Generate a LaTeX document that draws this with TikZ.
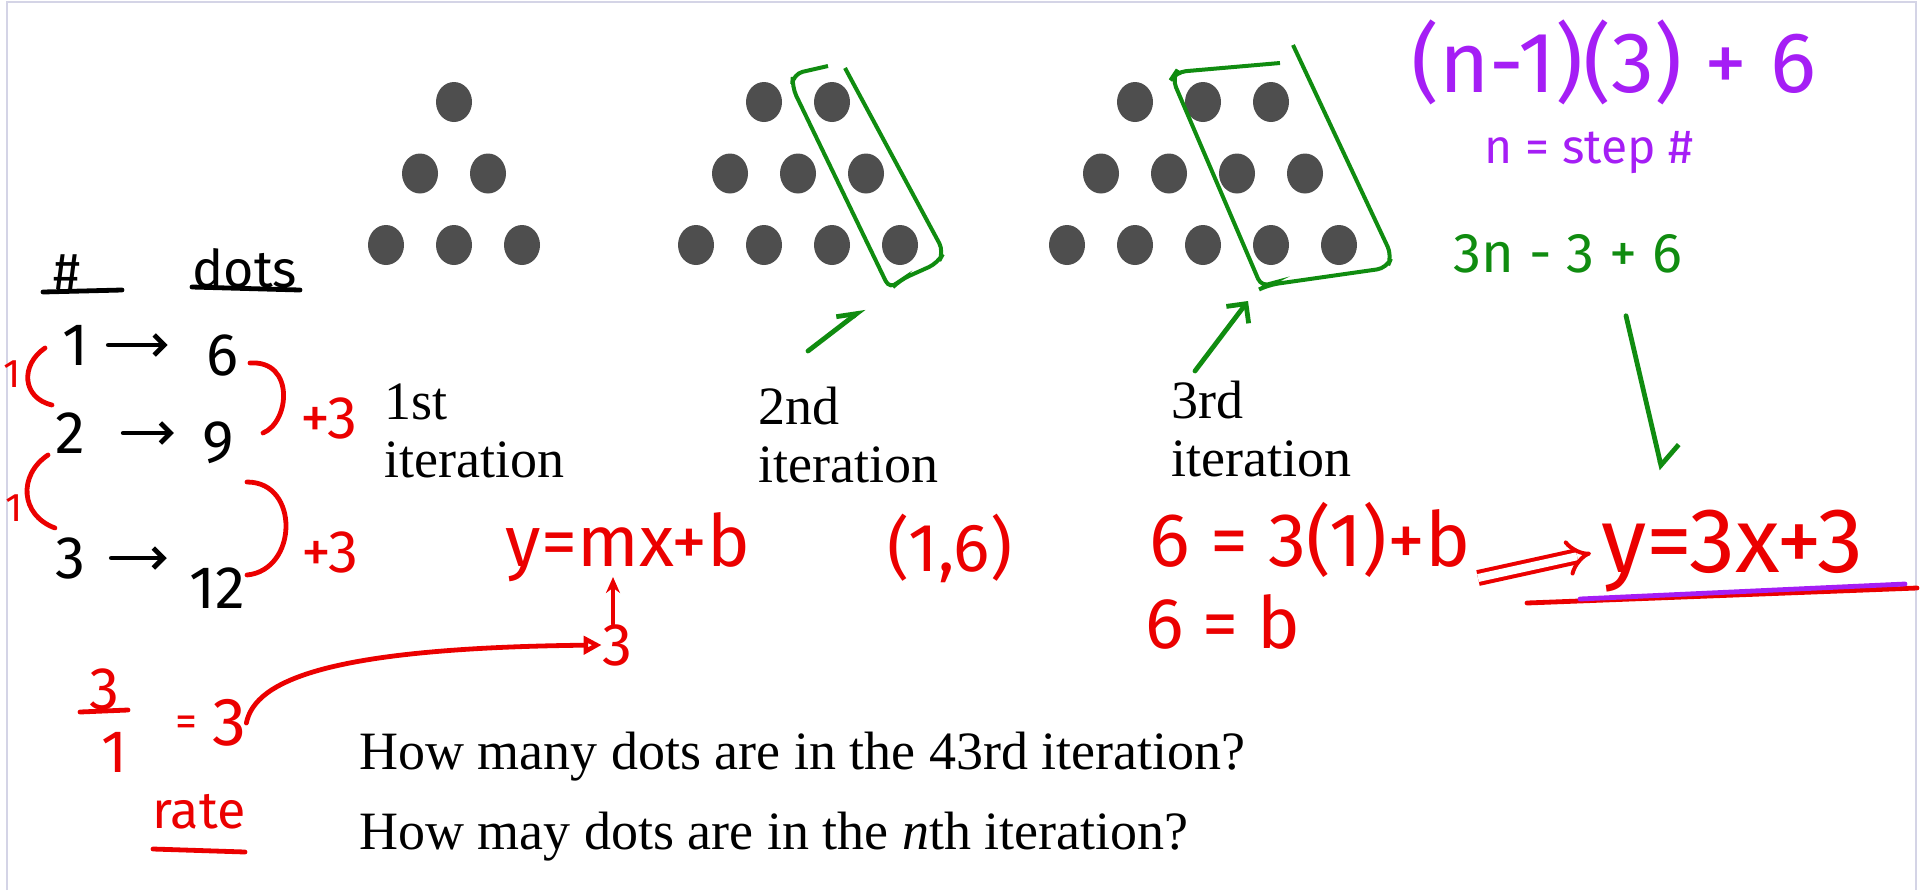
\documentclass[tikz,border=0pt]{standalone}
\usepackage{fontspec}
\setmainfont{Liberation Serif}
\newfontfamily\handfont{Fira Sans}
\usetikzlibrary{arrows.meta}
\definecolor{ink}{RGB}{235,0,0}
\definecolor{leaf}{RGB}{16,140,16}
\definecolor{plum}{RGB}{165,30,245}
\definecolor{dotgray}{RGB}{78,78,78}
\definecolor{rim}{RGB}{212,212,230}
\tikzset{
  pen/.style={font=\handfont\fontsize{#1pt}{#1pt}\selectfont, inner sep=0pt},
  stroke/.style={line width=2.4pt, line cap=round, line join=round},
  lbl/.style={font=\fontsize{27pt}{29pt}\selectfont, inner sep=0pt, align=left, anchor=north west},
  question/.style={font=\fontsize{27pt}{29pt}\selectfont, inner sep=0pt, anchor=base west},
}
\begin{document}
\begin{tikzpicture}[x=0.5pt, y=-0.5pt]
  \useasboundingbox (0,0) rectangle (1923,890);
  \draw[rim, line width=1pt] (7,890) -- (7,2) -- (1916,2) -- (1916,890);

  % the three triangles of dots
  \foreach \step/\cx in {1/454,2/798,3/1203}
    \foreach \row in {0,1,2} {
      \pgfmathtruncatemacro{\cnt}{\step+\row}
      \foreach \col in {1,...,\cnt}
        \fill[dotgray] ({\cx-(\cnt-1)*34+(\col-1)*68},{102+71.5*\row}) ellipse (9pt and 10pt);
    }

  \node[lbl] (it1) at (384,383) {1st\\iteration};
  \node[lbl] (it2) at (758,387) {2nd\\iteration};
  \node[lbl] (it3) at (1171,381) {3rd\\iteration};
  \node[question] (q1) at (359,769) {How many dots are in the 43rd iteration?};
  \node[question] (q2) at (359,849) {How may dots are in the \textit{n}th iteration?};

  % green boxes round the new diagonal
  \draw[leaf, line width=2pt, rounded corners=5pt] (828,66) -- (793,74) -- (792,87) -- (890,290) -- (900,280) -- (938,263) -- (944,252) -- (845,68);
  \draw[leaf, line width=2pt, rounded corners=5pt] (1280,63) -- (1176,72) -- (1172,78) -- (1262,288) -- (1268,285) -- (1387,268) -- (1392,256) -- (1293,45);
  \draw[leaf, stroke, -{Straight Barb[left, length=9pt, width=10pt]}] ([xshift=25pt,yshift=18pt]it2.north west) -- ++(56,-43);
  \draw[leaf, stroke, -{Straight Barb[length=7pt, width=14pt]}] ([xshift=12pt,yshift=5pt]it3.north west) -- ++(53,-70);

  % table
  \node[pen=26] (hash) at (67,272) {\#};
  \node[pen=26] (dots) at (245,268) {dots};
  \draw[stroke] (43,292) -- (122,290);
  \draw[stroke] (192,287) -- (300,290);
  \node[pen=30] (one) at (75,345) {1};
  \node[pen=30] (six) at (222,355) {6};
  \node[pen=30] (two) at (70,433) {2};
  \node[pen=30] (nine) at (218,443) {9};
  \node[pen=30] (three) at (70,558) {3};
  \node[pen=30] (twelve) at (217,588) {12};
  \draw[stroke, -{Straight Barb[length=5pt, width=10pt]}, shorten <=10pt, shorten >=19pt] (one.east) -- (one.east -| six.west);
  \draw[stroke, -{Straight Barb[length=5pt, width=10pt]}, shorten <=19pt, shorten >=14pt] (two.east) -- (two.east -| nine.west);
  \draw[stroke, -{Straight Barb[length=5pt, width=10pt]}, shorten <=13pt, shorten >=11pt] (three.east) -- (three.east -| twelve.west);

  % differences
  \draw[ink, stroke] (45,348) .. controls (20,365) and (22,398) .. (52,405);
  \draw[ink, stroke] (48,455) .. controls (18,475) and (20,515) .. (55,528);
  \draw[ink, stroke] (250,363) .. controls (295,360) and (290,422) .. (263,433);
  \draw[ink, stroke] (247,482) .. controls (300,482) and (298,570) .. (247,575);
  \node[pen=20, text=ink] (d1) at (12,374) {1};
  \node[pen=20, text=ink] (d2) at (14,508) {1};
  \node[pen=30, text=ink] (plus1) at (329,418) {+3};
  \node[pen=30, text=ink] (plus2) at (330,552) {+3};

  % rate
  \node[pen=30, text=ink] (num) at (104,689) {3};
  \draw[ink, stroke] (80,712) -- (128,710);
  \node[pen=30, text=ink] (den) at (114,752) {1};
  \node[pen=22, text=ink] (eq) at (186,726) {=};
  \node[pen=34, text=ink] (rate3) at (229,723) {3};
  \node[pen=26, text=ink] (rate) at (199,812) {rate};
  \draw[ink, stroke] (153,849) -- (245,852);

  % slope and intercept
  \node[pen=36, text=ink, anchor=base] (ymx) at (628,566) {y=mx+b};
  \node[pen=30, text=ink] (tgt) at (617,645) {3};
  \coordinate (mfoot) at (613,577);
  \draw[ink, stroke, -{Stealth[length=8pt, width=7pt]}] (tgt.north -| mfoot) -- (mfoot);
  \draw[ink, stroke, -{Triangle[open, length=9pt, width=9pt]}] (rate3.east) .. controls (255,680) and (330,648) .. (tgt.west);
  \node[pen=34, text=ink] (pt) at (950,548) {(1,6)};
  \node[pen=38, text=ink] (sub1) at (1310,540) {6 = 3(1)+b};
  \node[pen=36, text=ink] (sub2) at (1223,622) {6 = b};
  \node[pen=46, text=ink] (ysol) at (1732,551) {y=3x+3};
  \coordinate (impl) at (1478,578);
  \draw[ink, double, double distance=4pt, line width=2pt, -{Implies}, shorten >=5pt] (impl) -- (ysol.west);
  \draw[ink, stroke] (1527,603) -- (1917,588);
  \draw[plum, stroke] (1580,599) -- (1905,584);

  % general rule
  \node[pen=43, text=plum] (rule) at (1614,62) {(n-1)(3) + 6};
  \node[pen=24, text=plum] (stepn) at (1589,153) {n = step \#};
  \node[pen=28, text=leaf] (expand) at (1568,254) {3n - 3 + 6};
  \draw[leaf, stroke, -{Straight Barb[left, length=8pt, width=22pt]}] ([xshift=29pt,yshift=-21pt]expand.south) -- ++(36,154);
\end{tikzpicture}
\end{document}
